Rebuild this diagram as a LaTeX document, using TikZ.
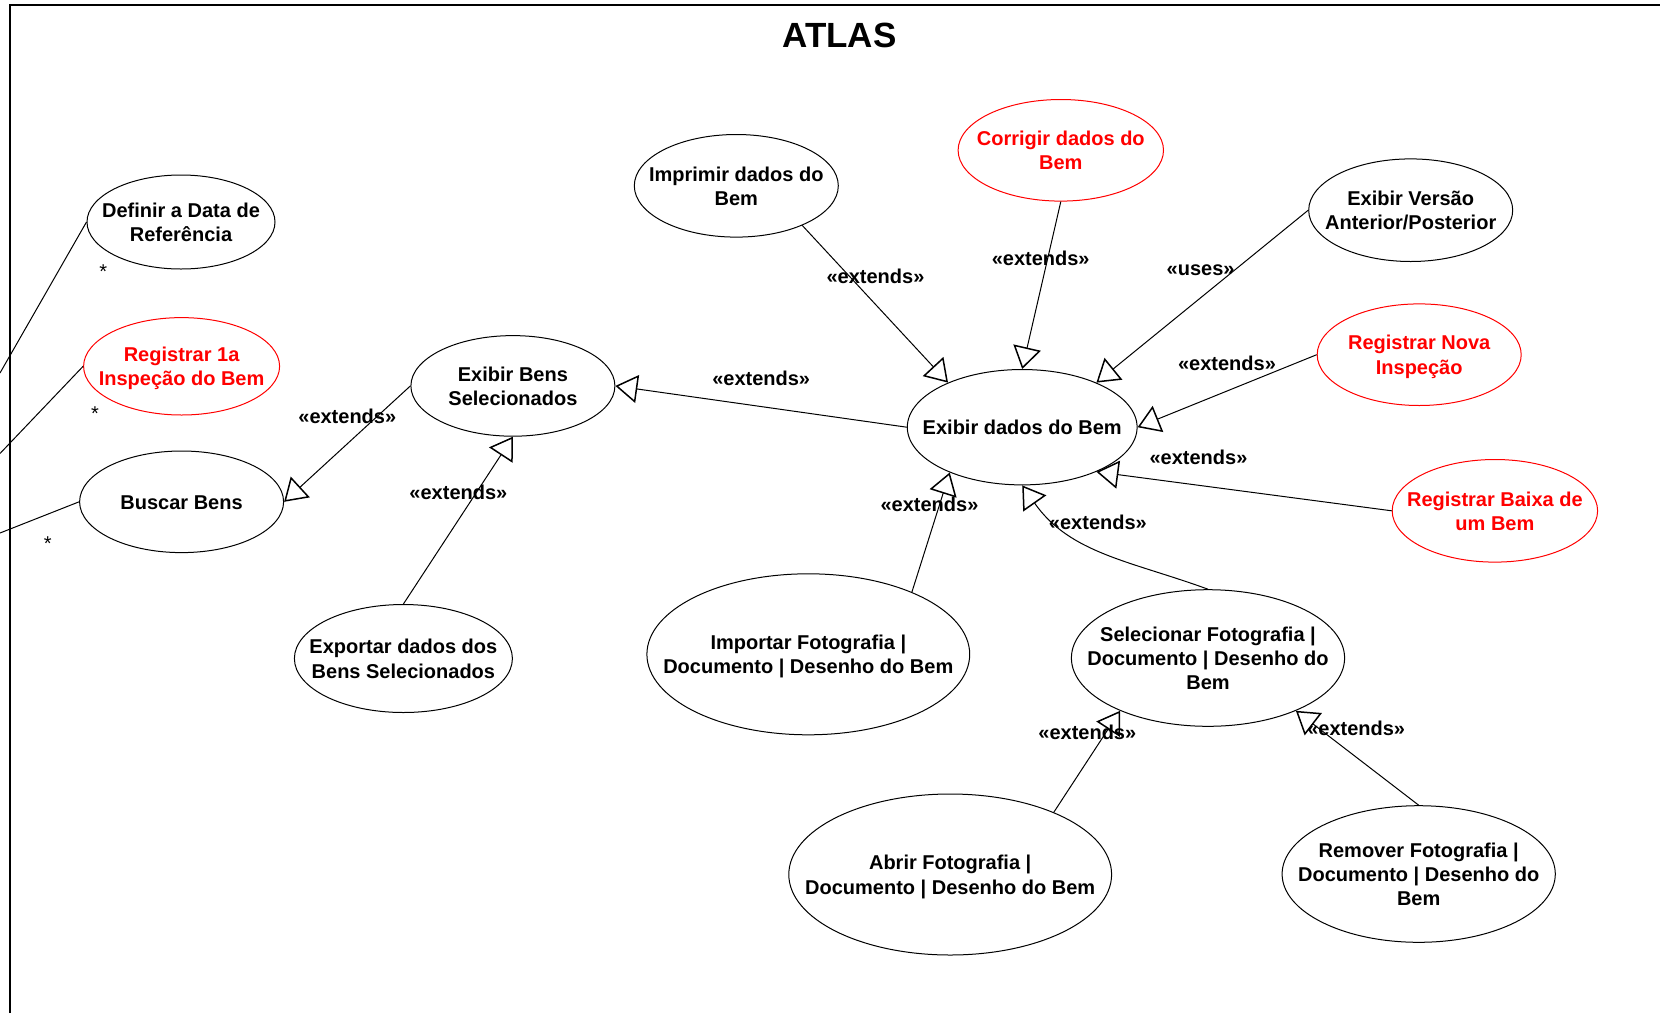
\documentclass[tikz,border=0pt]{standalone}
\usepackage{fontspec}
\setmainfont{Liberation Sans}
\usetikzlibrary{shapes,arrows.meta}
\tikzstyle{usecase}=[draw, ellipse, line width=0.5pt, inner sep=0pt, font=\bfseries\fontsize{10}{12.2}\selectfont]
\tikzstyle{new usecase}=[usecase, draw=red, text=red]
\tikzstyle{generalization}=[-{Triangle[open, length=11pt, width=14pt, line width=0.75pt]}, line width=0.5pt]
\tikzstyle{association}=[line width=0.5pt]
\tikzstyle{stereotype}=[font=\bfseries\fontsize{10}{12}\selectfont, inner sep=0pt]
\tikzstyle{multiplicity}=[font=\fontsize{10}{12}\selectfont, inner sep=0pt]
\tikzstyle{diagram title}=[font=\bfseries\fontsize{17.5}{21}\selectfont]
\newcommand{\ucbox}[1]{\makebox[0pt]{\raisebox{-1.3pt}[\height][\depth]{\begin{tabular}{@{}c@{}}#1\end{tabular}}}}

\begin{document}
\begin{tikzpicture}[x=0.5pt, y=-0.5pt]
        \useasboundingbox (0,0) rectangle (1660,1013);

        % Moldura do sistema
        \draw[line width=1pt] (10,1013) -- (10,5) -- (1660,5);
        \node[diagram title] (titulo) at (839.5,35) {ATLAS};

        % Casos de uso do lado esquerdo
        \node[usecase, minimum width=94pt, minimum height=47pt] (data) at (181,222) {\ucbox{Definir a Data de\\Referência}};
        \node[new usecase, minimum width=98pt, minimum height=48.7pt] (registro) at (181.6,366.3) {\ucbox{Registrar 1a\\Inspeção do Bem}};
        \node[usecase, minimum width=102pt, minimum height=50.8pt] (buscar) at (181.6,501.8) {\ucbox{Buscar Bens}};
        \node[usecase, minimum width=102pt, minimum height=50.3pt] (bens) at (512.9,385.9) {\ucbox{Exibir Bens\\Selecionados}};
        \node[usecase, minimum width=109pt, minimum height=54pt] (exportar) at (403.4,658.5) {\ucbox{Exportar dados dos\\Bens Selecionados}};

        % Casos de uso em torno de Exibir dados do Bem
        \node[usecase, minimum width=114.9pt, minimum height=57.7pt] (dados) at (1022.2,427.2) {\ucbox{Exibir dados do Bem}};
        \node[usecase, minimum width=102pt, minimum height=51.3pt] (imprimir) at (736.3,185.8) {\ucbox{Imprimir dados do\\Bem}};
        \node[new usecase, minimum width=102.7pt, minimum height=50.8pt] (corrigir) at (1060.8,150.3) {\ucbox{Corrigir dados do\\Bem}};
        \node[usecase, minimum width=102pt, minimum height=51.3pt] (versao) at (1410.7,210.2) {\ucbox{Exibir Versão\\Anterior/Posterior}};
        \node[new usecase, minimum width=102pt, minimum height=50.8pt] (nova) at (1419.2,354.7) {\ucbox{Registrar Nova\\Inspeção}};
        \node[new usecase, minimum width=102.7pt, minimum height=51.3pt] (baixa) at (1494.9,510.8) {\ucbox{Registrar Baixa de\\um Bem}};

        % Fotografias, documentos e desenhos
        \node[usecase, minimum width=161.4pt, minimum height=80.5pt] (importar) at (808.3,654.3) {\ucbox{Importar Fotografia |\\Documento | Desenho do Bem}};
        \node[usecase, minimum width=136.6pt, minimum height=68.3pt] (selecionar) at (1208,658) {\ucbox{Selecionar Fotografia |\\Documento | Desenho do\\Bem}};
        \node[usecase, minimum width=161.4pt, minimum height=80.5pt] (abrir) at (950.2,874.5) {\ucbox{Abrir Fotografia |\\Documento | Desenho do Bem}};
        \node[usecase, minimum width=136.6pt, minimum height=68.3pt] (remover) at (1418.7,874) {\ucbox{Remover Fotografia |\\Documento | Desenho do\\Bem}};

        % Associacoes com o ator (fora da moldura)
        \coordinate (ator_data) at (0,373);
        \coordinate (ator_registro) at (0,453.5);
        \coordinate (ator_buscar) at (0,533);
        \draw[association] (data.west) -- (ator_data);
        \draw[association] (registro.west) -- (ator_registro);
        \draw[association] (buscar.west) -- (ator_buscar);
        \node[multiplicity] (mult_data) at (103.3,272) {*};
        \node[multiplicity] (mult_registro) at (95,413.5) {*};
        \node[multiplicity] (mult_buscar) at (47.8,543.6) {*};

        % Generalizacoes
        \draw[generalization] (bens.west) -- (buscar.east);
        \draw[generalization] (exportar.north) -- (bens.south);
        \draw[generalization] (dados.west) -- (bens.east);
        \draw[generalization] (imprimir.-31) -- (dados.149);
        \draw[generalization] (corrigir.south) -- (dados.north);
        \draw[generalization] (versao.west) -- (dados.31);
        \draw[generalization] (nova.west) -- (dados.east);
        \draw[generalization] (baixa.west) -- (dados.-31);
        \draw[generalization] (importar.31) -- (dados.-148);
        \draw[generalization] (selecionar.north) to[out=160, in=-55] (dados.south);
        \draw[generalization] (abrir.31) -- (selecionar.-149);
        \draw[generalization] (remover.north) -- (selecionar.-31);

        % Estereotipos
        \node[stereotype] (lbl_buscar) at (347.3,416.1) {«extends»};
        \node[stereotype] (lbl_exportar) at (458.4,492.3) {«extends»};
        \node[stereotype] (lbl_bens) at (761.2,378) {«extends»};
        \node[stereotype] (lbl_imprimir) at (875.5,276.3) {«extends»};
        \node[stereotype] (lbl_corrigir) at (1040.7,258.3) {«extends»};
        \node[stereotype] (lbl_versao) at (1200.6,270) {«uses»};
        \node[stereotype] (lbl_nova) at (1227,363.1) {«extends»};
        \node[stereotype] (lbl_baixa) at (1198.5,457.4) {«extends»};
        \node[stereotype] (lbl_importar) at (929.5,504) {«extends»};
        \node[stereotype] (lbl_selecionar) at (1097.9,522) {«extends»};
        \node[stereotype] (lbl_abrir) at (1087.3,732.6) {«extends»};
        \node[stereotype] (lbl_remover) at (1356.2,728.4) {«extends»};
\end{tikzpicture}
\end{document}
